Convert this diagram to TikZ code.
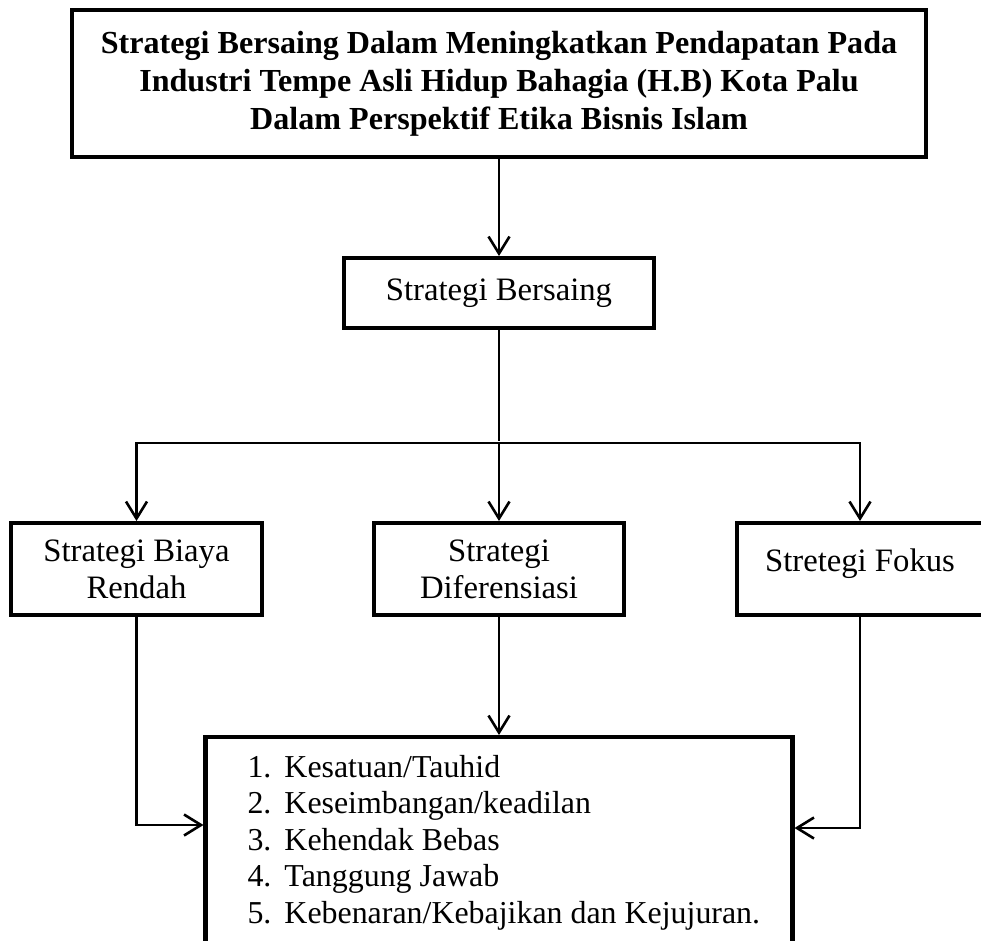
\documentclass[tikz,border=0pt]{standalone}
\usepackage{fontspec}
\setmainfont{Liberation Serif}
\usetikzlibrary{positioning,arrows.meta}

\begin{document}
\begin{tikzpicture}[x=1pt, y=-1pt, >={Straight Barb[length=17pt,width=21pt]},
    shorten >=2pt, line width=2.6pt,
    kotak/.style={draw, line width=4.7pt, inner sep=0pt, outer sep=0pt, align=center,
      minimum height=92pt, font=\fontsize{32.7}{37}\selectfont},
    judulbox/.style={kotak, minimum width=854pt, minimum height=147pt,
      font=\bfseries\fontsize{32.1}{38}\selectfont}]
    \clip (0,0) rectangle (981,940);
    \useasboundingbox (0,0) rectangle (981,940);

    \node [judulbox] at (499,83.5) (judul)
      {Strategi Bersaing Dalam Meningkatkan Pendapatan Pada\\
       Industri Tempe Asli Hidup Bahagia (H.B) Kota Palu\\
       Dalam Perspektif Etika Bisnis Islam};
    \node [kotak, minimum width=310pt, minimum height=70pt,
           below=101pt of judul]                          (bersaing) {Strategi Bersaing};
    \coordinate [below=115pt of bersaing.south]           (cabang);
    \node [kotak, minimum width=250pt, below=195pt of bersaing]  (diferensiasi) {Strategi\\Diferensiasi};
    \node [kotak, minimum width=251pt, left=112pt of diferensiasi] (biaya) {Strategi Biaya\\Rendah};
    \node [kotak, minimum width=246pt, text depth=17pt,
           right=113pt of diferensiasi]                   (fokus) {Stretegi Fokus};
    \node [kotak, minimum height=0pt, inner xsep=42pt, inner ysep=14.5pt, align=left,
           font=\fontsize{31.9}{36.5}\selectfont,
           below=122pt of diferensiasi]                   (nilai)
      {\makebox[503pt][l]{\begin{tabular}{@{}l@{}}
        \makebox[37pt][l]{1.}Kesatuan/Tauhid\\
        \makebox[37pt][l]{2.}Keseimbangan/keadilan\\
        \makebox[37pt][l]{3.}Kehendak Bebas\\
        \makebox[37pt][l]{4.}Tanggung Jawab\\
        \makebox[37pt][l]{5.}Kebenaran/Kebajikan dan Kejujuran.
      \end{tabular}}};

    \draw [->] (judul) -- (bersaing);
    \draw (bersaing) -- (cabang);
    \draw [->] (cabang) -| (biaya);
    \draw [->] (cabang) -- (diferensiasi);
    \draw [->] (cabang) -| (fokus);
    \draw [->] (diferensiasi) -- (nilai);
    \draw [->] (biaya) |- ([yshift=-88pt]nilai.north west);
    \draw [->] (fokus) |- ([yshift=-91pt]nilai.north east);
\end{tikzpicture}
\end{document}
